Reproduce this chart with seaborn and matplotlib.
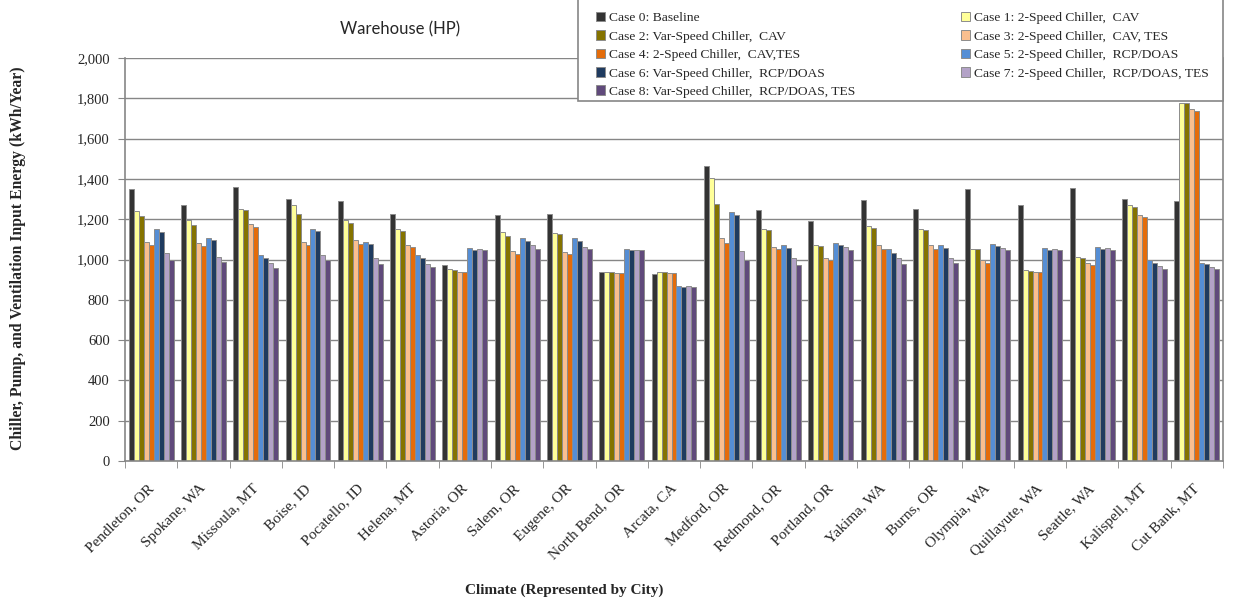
import numpy as np
import pandas as pd
import seaborn as sns
import matplotlib.pyplot as plt
import matplotlib.transforms as mtransforms
from matplotlib.patches import Rectangle
from matplotlib.ticker import FuncFormatter, FixedLocator

cities = ["Pendleton, OR", "Spokane, WA", "Missoula, MT", "Boise, ID", "Pocatello, ID",
          "Helena, MT", "Astoria, OR", "Salem, OR", "Eugene, OR", "North Bend, OR",
          "Arcata, CA", "Medford, OR", "Redmond, OR", "Portland, OR", "Yakima, WA",
          "Burns, OR", "Olympia, WA", "Quillayute, WA", "Seattle, WA", "Kalispell, MT",
          "Cut Bank, MT"]

case_names = ["Case 0: Baseline",
              "Case 1: 2-Speed Chiller,  CAV",
              "Case 2: Var-Speed Chiller,  CAV",
              "Case 3: 2-Speed Chiller,  CAV, TES",
              "Case 4: 2-Speed Chiller,  CAV,TES",
              "Case 5: 2-Speed Chiller,  RCP/DOAS",
              "Case 6: Var-Speed Chiller,  RCP/DOAS",
              "Case 7: 2-Speed Chiller,  RCP/DOAS, TES",
              "Case 8: Var-Speed Chiller,  RCP/DOAS, TES"]

case0 = [1350, 1270, 1358, 1300, 1288, 1227, 975, 1220, 1227, 940, 928, 1463, 1247, 1190, 1295, 1252, 1350, 1270, 1357, 1302, 1288]
case1 = [1242, 1198, 1250, 1270, 1198, 1150, 952, 1138, 1133, 938, 938, 1402, 1150, 1072, 1165, 1150, 1050, 950, 1013, 1268, 1775]
case2 = [1218, 1170, 1245, 1225, 1182, 1143, 950, 1118, 1127, 938, 938, 1275, 1145, 1065, 1158, 1145, 1050, 945, 1008, 1263, 1775]
case3 = [1088, 1082, 1175, 1088, 1095, 1073, 938, 1040, 1038, 933, 933, 1108, 1063, 1005, 1070, 1070, 997, 938, 983, 1222, 1745]
case4 = [1070, 1065, 1163, 1070, 1075, 1063, 938, 1025, 1025, 933, 933, 1082, 1050, 997, 1050, 1050, 982, 938, 975, 1213, 1738]
case5 = [1152, 1108, 1020, 1152, 1088, 1020, 1058, 1107, 1107, 1050, 870, 1238, 1072, 1083, 1050, 1070, 1077, 1057, 1063, 997, 983]
case6 = [1135, 1097, 1008, 1140, 1077, 1007, 1047, 1090, 1090, 1047, 865, 1222, 1058, 1072, 1033, 1058, 1065, 1045, 1053, 985, 980]
case7 = [1033, 1013, 982, 1020, 1008, 980, 1052, 1070, 1063, 1045, 870, 1040, 1008, 1063, 1008, 1008, 1057, 1050, 1057, 970, 963]
case8 = [1000, 988, 958, 998, 980, 963, 1045, 1050, 1050, 1045, 863, 1000, 975, 1045, 977, 983, 1045, 1045, 1045, 952, 952]

colors = ["#333333", "#ffff99", "#857300", "#fabf8f", "#e46c0a",
          "#558ed5", "#1f3b5f", "#b3a2c7", "#604a7b"]

all_cases = [case0, case1, case2, case3, case4, case5, case6, case7, case8]
rows = []
for name, vals in zip(case_names, all_cases):
    for city, v in zip(cities, vals):
        rows.append({"city": city, "case": name, "energy": v})
df = pd.DataFrame(rows)

sns.set_style("white")
plt.rcParams['font.family'] = ['Liberation Serif', 'DejaVu Serif']

grey = "#868686"
W, H = 1237, 603
fig = plt.figure(figsize=(W / 100, H / 100), dpi=100)
ax = fig.add_axes([125 / W, 1 - 461 / H, (1223 - 125) / W, (461 - 58) / H])

sns.barplot(data=df, x="city", y="energy", hue="case", palette=colors, order=cities,
            hue_order=case_names, width=0.86, edgecolor="#8c8c8c", linewidth=0.7,
            saturation=1, ax=ax)

ax.set_ylim(0, 2000)
ax.set_xlim(-0.5, len(cities) - 0.5)
ax.set_yticks(np.arange(0, 2001, 200))
ax.yaxis.set_major_formatter(FuncFormatter(lambda v, p: f"{int(v):,}"))
ax.yaxis.grid(True, color=grey, linewidth=1)
ax.set_axisbelow(True)
ax.set_xlabel("")
ax.set_ylabel("")

for s in ["left", "bottom", "right"]:
    ax.spines[s].set_color(grey)
    ax.spines[s].set_linewidth(1.2)
ax.spines["top"].set_visible(False)

ax.set_xticks(range(len(cities)))
ax.set_xticklabels(cities, rotation=45, ha="right", rotation_mode="anchor", fontsize=11)
ax.tick_params(axis="x", which="major", length=0, pad=15)
shift = mtransforms.ScaledTranslation(-4 / 100, 0, fig.dpi_scale_trans)
for lbl in ax.get_xticklabels():
    lbl.set_transform(lbl.get_transform() + shift)
ax.xaxis.set_minor_locator(FixedLocator(np.arange(-0.5, len(cities), 1)))
ax.tick_params(axis="x", which="minor", length=5, color=grey, direction="out", bottom=True)
ax.tick_params(axis="y", length=5, color=grey, direction="out", left=True, labelsize=10.5, pad=6)

# legend box (white, covers the top of the plot like the original)
box = Rectangle((578 / W, 1 - 101 / H), (1223 - 578) / W, 101 / H + 0.01,
                transform=fig.transFigure, facecolor="white", edgecolor=grey,
                linewidth=1.2, zorder=3)
fig.add_artist(box)

handles, labels = ax.get_legend_handles_labels()
ax.get_legend().remove()
order = [0, 2, 4, 6, 8, 1, 3, 5, 7]
leg = fig.legend([handles[i] for i in order], [labels[i] for i in order],
                 loc="upper left", bbox_to_anchor=(596 / W, 1 - 12 / H), ncol=2,
                 fontsize=9.7, frameon=False, borderaxespad=0, borderpad=0,
                 handlelength=0.7, handleheight=0.7, handletextpad=0.3,
                 labelspacing=0.44, columnspacing=7.8)
leg.set_zorder(4)

fig.text(400 / W, 1 - 29 / H, "Warehouse (HP)", fontsize=12, family=["Lato", "DejaVu Sans"],
         ha="center", va="center")
fig.text(18 / W, 1 - 258 / H, "Chiller, Pump, and Ventilation Input Energy (kWh/Year)",
         rotation=90, fontsize=11.3, fontweight="bold", ha="center", va="center")
fig.text(564 / W, 1 - 590 / H, "Climate (Represented by City)",
         fontsize=11, fontweight="bold", ha="center", va="center")

fig.savefig("out.png", dpi=100)
